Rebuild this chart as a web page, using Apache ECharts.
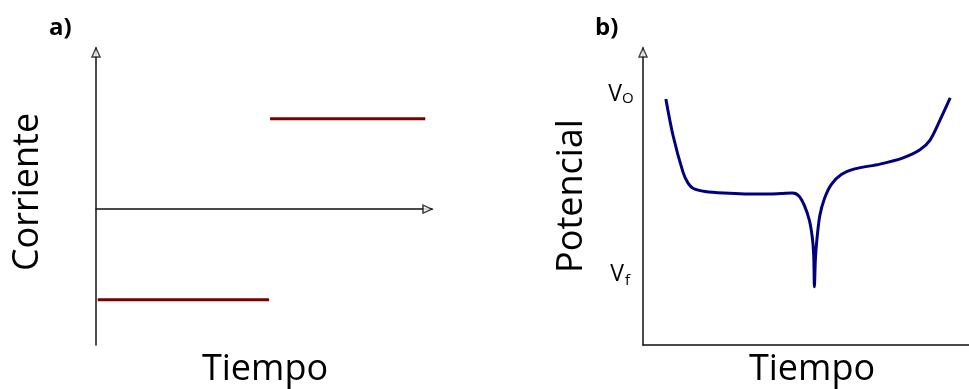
<!DOCTYPE html>
<html>
<head>
<meta charset="utf-8">
<script src="https://cdn.jsdelivr.net/npm/echarts@6/dist/echarts.min.js"></script>
<style>
  html, body { margin: 0; padding: 0; background: #fff; }
  #chart { width: 969px; height: 389px; }
</style>
</head>
<body>
<div id="chart"></div>
<script>
// Panel a: applied current steps (time, current)
const currentLow = [[0.05, -1], [5.15, -1]];
const currentHigh = [[5.18, 1], [9.8, 1]];

// Panel b: potential response over time (time, potential)
const potentialCurve = [
  [0.68, 8.28], [0.89, 7.07], [1.19, 5.82], [1.34, 5.45], [1.50, 5.27],
  [1.85, 5.17], [2.40, 5.12], [3.48, 5.08], [4.10, 5.10], [4.45, 5.12],
  [4.64, 5.02], [4.80, 4.70], [4.95, 4.20], [5.04, 3.60], [5.08, 3.00],
  [5.10, 1.96], [5.13, 2.90], [5.17, 3.50], [5.26, 4.35], [5.40, 4.93],
  [5.60, 5.40], [5.90, 5.74], [6.30, 5.93], [7.05, 6.09], [7.74, 6.30],
  [8.24, 6.57], [8.54, 6.90], [8.84, 7.58], [9.14, 8.32]
];

// Axis extents
const aX = [0, 10], aY = [-1.5, 1.78];
const bX = [0, 9.7], bY = [0, 10];

const font = '"Open Sans", "Noto Sans", sans-serif';
const axisLine = { show: true, onZero: true, lineStyle: { color: '#111', width: 1.5 } };
const hidden = { axisTick: { show: false }, axisLabel: { show: false }, splitLine: { show: false } };

const arrow = (grid, pt, rot, off) => ({
  type: 'scatter', xAxisIndex: grid, yAxisIndex: grid, data: [pt],
  symbol: 'triangle', symbolSize: [8, 9], symbolRotate: rot, symbolOffset: off,
  itemStyle: { color: '#fff', borderColor: '#111', borderWidth: 1.5 },
  clip: false, silent: true, z: 5
});

const label = (text, x, y, size, align) => ({
  type: 'text', x, y,
  style: { text, font: size + 'px ' + font, fill: '#000', align, verticalAlign: 'middle' }
});

const chart = echarts.init(document.getElementById('chart'));
chart.setOption({
  animation: false,
  backgroundColor: '#fff',
  grid: [
    { left: 96, top: 48, width: 336, height: 297 },
    { left: 643, top: 48, width: 326, height: 297 }
  ],
  xAxis: [
    Object.assign({ type: 'value', gridIndex: 0, min: aX[0], max: aX[1], axisLine }, hidden),
    Object.assign({ type: 'value', gridIndex: 1, min: bX[0], max: bX[1], axisLine }, hidden)
  ],
  yAxis: [
    Object.assign({ type: 'value', gridIndex: 0, min: aY[0], max: aY[1], axisLine }, hidden),
    Object.assign({ type: 'value', gridIndex: 1, min: bY[0], max: bY[1], axisLine }, hidden)
  ],
  series: [
    { type: 'line', xAxisIndex: 0, yAxisIndex: 0, data: currentLow, showSymbol: false,
      lineStyle: { color: '#7a0000', width: 3 } },
    { type: 'line', xAxisIndex: 0, yAxisIndex: 0, data: currentHigh, showSymbol: false,
      lineStyle: { color: '#7a0000', width: 3 } },
    { type: 'line', xAxisIndex: 1, yAxisIndex: 1, data: potentialCurve, showSymbol: false,
      smooth: 0.3,
      lineStyle: { color: '#00007f', width: 3 } },
    arrow(0, [aX[0], aY[1]], 0, [0, 4.5]),
    arrow(0, [aX[1], 0], -90, [-4.5, 0]),
    arrow(1, [bX[0], bY[1]], 0, [0, 4.5])
  ],
  graphic: [
    { type: 'text', left: 49, top: 16, style: { text: 'a)', font: 'bold 24px ' + font, fill: '#000' } },
    { type: 'text', left: 595, top: 16, style: { text: 'b)', font: 'bold 24px ' + font, fill: '#000' } },
    Object.assign(label('Corriente', 28, 192, 36, 'center'), { rotation: Math.PI / 2 }),
    label('Tiempo', 265, 370, 36, 'center'),
    Object.assign(label('Potencial', 572, 196, 36, 'center'), { rotation: Math.PI / 2 }),
    label('Tiempo', 812, 370, 36, 'center'),
    label('V', 622, 94, 23, 'right'),
    label('O', 622, 99, 15, 'left'),
    label('V', 624, 274, 23, 'right'),
    label('f', 625, 281, 15, 'left')
  ]
});
</script>
</body>
</html>
